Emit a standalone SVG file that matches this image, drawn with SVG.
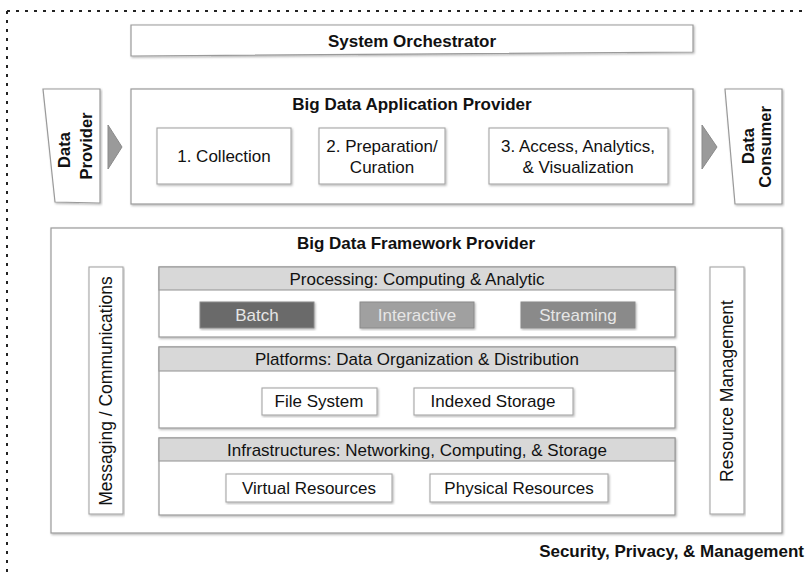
<svg xmlns="http://www.w3.org/2000/svg" width="808" height="576" viewBox="0 0 808 576">
  <style>
    text { font-family: "Liberation Sans", Arial, Helvetica, sans-serif; fill: #111; }
    .title { font-size: 17px; font-weight: bold; text-anchor: middle; }
    .label { font-size: 17px; text-anchor: middle; }
    .vlabel { font-size: 17.5px; text-anchor: middle; }
    .vbold { font-size: 16.5px; font-weight: bold; text-anchor: middle; }
    .box { fill: #fff; stroke: #9a9a9a; stroke-width: 1.2; filter: url(#shadow); }
    .inner { fill: #fff; stroke: #a6a6a6; stroke-width: 1.1; filter: url(#shadow); }
    .head { fill: #d8d8d8; stroke: #9a9a9a; stroke-width: 1.1; }
    .flow { fill: #9a9a9a; stroke: #8a8a8a; stroke-width: 1; }
    .mode { stroke: #8a8a8a; stroke-width: 1; filter: url(#shadow); }
    .modetext { font-size: 17px; text-anchor: middle; fill: #e6e6e6; }
  </style>
  <defs>
    <filter id="shadow" x="-5%" y="-5%" width="110%" height="115%">
      <feDropShadow dx="1" dy="1.2" stdDeviation="0.8" flood-color="#000" flood-opacity="0.3"/>
    </filter>
  </defs>

  <!-- outer security / privacy / management boundary -->
  <g id="security">
    <path d="M7 11 H808 M7 11 V576" fill="none" stroke="#222" stroke-width="2" stroke-dasharray="3 6"/>
    <text x="804" y="557" style="font-size:17px;font-weight:bold;text-anchor:end">Security, Privacy, &amp; Management</text>
  </g>

  <g id="orchestrator">
    <polygon class="box" points="131,25 693,25 693,52 131,56"/>
    <text class="title" x="412" y="47">System Orchestrator</text>
  </g>

  <g id="data-provider">
    <polygon class="box" points="43,89 100,89 100,203 55,202"/>
    <text class="vbold" transform="translate(70,150) rotate(-90)">Data</text>
    <text class="vbold" transform="translate(92,146) rotate(-90)">Provider</text>
  </g>

  <g id="data-consumer">
    <polygon class="box" points="725,89 782,89 782,204 735,204"/>
    <text class="vbold" transform="translate(754,146) rotate(-90)">Data</text>
    <text class="vbold" transform="translate(771,147) rotate(-90)">Consumer</text>
  </g>

  <g id="connectors">
    <polygon class="flow" points="108,125 122,147 108,169"/>
    <polygon class="flow" points="702,125 717,147 702,169"/>
  </g>

  <g id="application-provider">
    <rect class="box" x="131" y="89" width="562" height="115"/>
    <text class="title" x="412" y="110">Big Data Application Provider</text>
    <g id="collection">
      <rect class="inner" x="157" y="128" width="134" height="56"/>
      <text class="label" x="224" y="162">1. Collection</text>
    </g>
    <g id="preparation">
      <rect class="inner" x="319" y="128" width="126" height="56"/>
      <text class="label" x="382" y="152">2. Preparation/</text>
      <text class="label" x="382" y="173">Curation</text>
    </g>
    <g id="access">
      <rect class="inner" x="489" y="128" width="179" height="56"/>
      <text class="label" x="578" y="152">3. Access, Analytics,</text>
      <text class="label" x="578" y="173">&amp; Visualization</text>
    </g>
  </g>

  <g id="framework-provider">
    <rect class="box" x="51" y="228" width="731" height="305"/>
    <text class="title" x="416" y="249">Big Data Framework Provider</text>
  </g>

  <g id="messaging">
    <rect class="inner" x="89" y="267" width="34" height="247"/>
    <text class="vlabel" transform="translate(112,391) rotate(-90)">Messaging / Communications</text>
  </g>

  <g id="resource-management">
    <rect class="inner" x="710" y="267" width="34" height="247"/>
    <text class="vlabel" transform="translate(733,391) rotate(-90)">Resource Management</text>
  </g>

  <g id="processing">
    <rect class="box" x="159" y="267" width="516" height="70"/>
    <rect class="head" x="159" y="267" width="516" height="23"/>
    <text class="label" x="417" y="285">Processing: Computing &amp; Analytic</text>
    <g id="batch">
      <rect class="mode" x="200" y="302" width="114" height="26" fill="#6b6b6b"/>
      <text class="modetext" x="257" y="321">Batch</text>
    </g>
    <g id="interactive">
      <rect class="mode" x="360" y="302" width="114" height="26" fill="#a0a0a0"/>
      <text class="modetext" x="417" y="321">Interactive</text>
    </g>
    <g id="streaming">
      <rect class="mode" x="521" y="302" width="114" height="26" fill="#8a8a8a"/>
      <text class="modetext" x="578" y="321">Streaming</text>
    </g>
  </g>

  <g id="platforms">
    <rect class="box" x="159" y="347" width="516" height="81"/>
    <rect class="head" x="159" y="347" width="516" height="24"/>
    <text class="label" x="417" y="365">Platforms: Data Organization &amp; Distribution</text>
    <g id="file-system">
      <rect class="inner" x="262" y="388" width="115" height="27"/>
      <text class="label" x="319" y="407">File System</text>
    </g>
    <g id="indexed-storage">
      <rect class="inner" x="414" y="388" width="159" height="27"/>
      <text class="label" x="493" y="407">Indexed Storage</text>
    </g>
  </g>

  <g id="infrastructures">
    <rect class="box" x="159" y="438" width="516" height="77"/>
    <rect class="head" x="159" y="438" width="516" height="23"/>
    <text class="label" x="417" y="456">Infrastructures: Networking, Computing, &amp; Storage</text>
    <g id="virtual-resources">
      <rect class="inner" x="226" y="474" width="166" height="28"/>
      <text class="label" x="309" y="494">Virtual Resources</text>
    </g>
    <g id="physical-resources">
      <rect class="inner" x="430" y="474" width="178" height="28"/>
      <text class="label" x="519" y="494">Physical Resources</text>
    </g>
  </g>
</svg>
